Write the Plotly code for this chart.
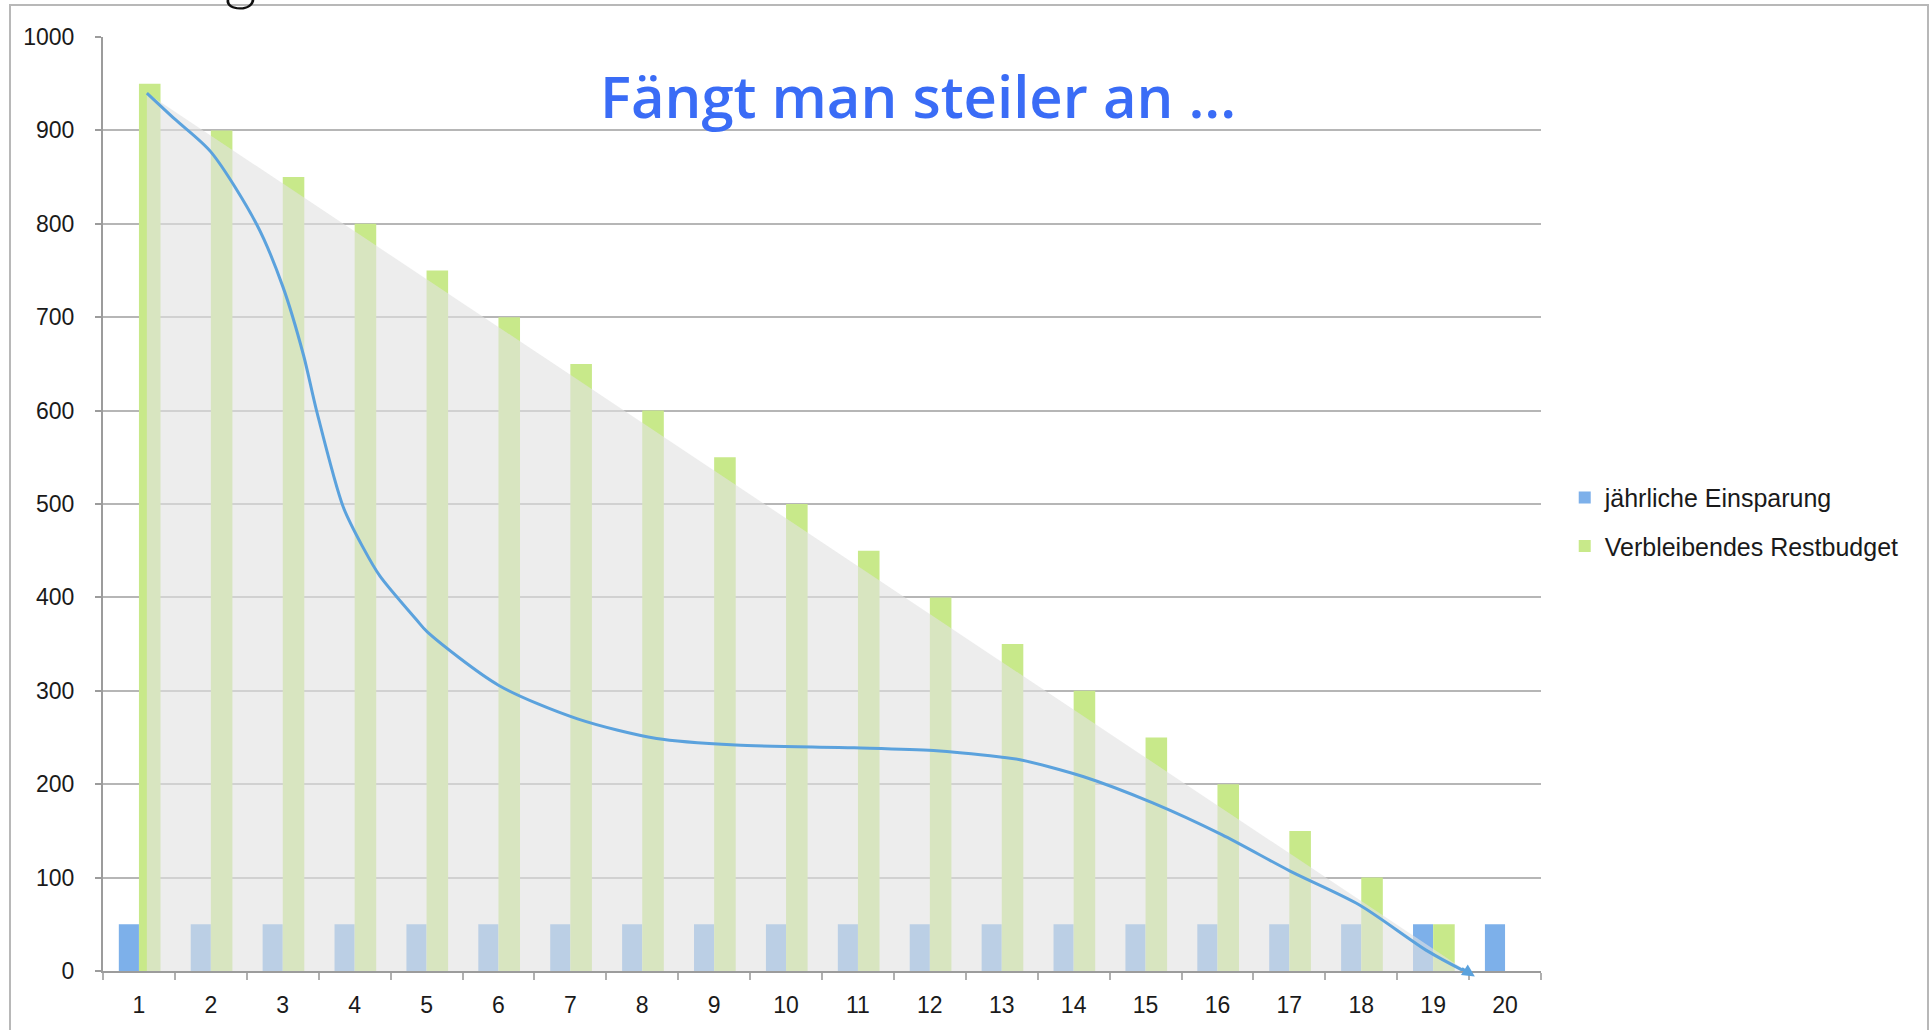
import plotly.graph_objects as go

# ---- data ----
jahre = list(range(1, 21))
jaehrliche_einsparung = [50] * 20
restbudget = [950, 900, 850, 800, 750, 700, 650, 600, 550, 500,
              450, 400, 350, 300, 250, 200, 150, 100, 50, 0]

# blue curve ("Fängt man steiler an ...")
kurve_x = [1.11, 1.5, 2.0, 2.64, 3.0, 3.29, 3.47, 3.84, 4.12, 4.35, 4.86, 5.01,
           6.0, 7.1, 8.2, 9.3, 10.95, 12.05, 12.98, 13.27, 14.14, 15.1, 16.06,
           17.01, 17.97, 18.93, 19.58]
kurve_y = [940, 912, 877, 799, 733, 659, 600, 497, 453, 423, 376, 363,
           306, 270, 249, 242, 239, 236, 229, 226, 208, 180, 146,
           107, 71, 21, -6]

# grey linear-decline area
flaeche_x = [1.11, 19.58, 1.11, 1.11]
flaeche_y = [940, -6, -6, 940]

titel = "Fängt man steiler an ..."
legende = ["jährliche Einsparung", "Verbleibendes Restbudget"]

BLUE = "#7db0ea"
GREEN = "#c8e98a"
LINE = "#5ba2dd"

fig = go.Figure()
fig.add_trace(go.Bar(
    x=jahre, y=jaehrliche_einsparung, name=legende[0],
    width=0.28, offset=-0.28, marker=dict(color=BLUE, line=dict(width=0)),
    legendgroup="a"))
fig.add_trace(go.Bar(
    x=jahre, y=restbudget, name=legende[1],
    width=0.30, offset=0.0, marker=dict(color=GREEN, line=dict(width=0)),
    legendgroup="b"))
fig.add_trace(go.Scatter(
    x=flaeche_x, y=flaeche_y, mode="lines", fill="toself",
    fillcolor="rgba(226,226,226,0.62)", line=dict(width=0),
    showlegend=False, hoverinfo="skip"))
fig.add_trace(go.Scatter(
    x=kurve_x, y=kurve_y, mode="lines",
    line=dict(color=LINE, width=3, shape="spline", smoothing=0.8),
    showlegend=False, hoverinfo="skip"))

# small arrow head at the end of the curve
fig.add_annotation(x=kurve_x[-1], y=kurve_y[-1], ax=kurve_x[-2] + 0.45, ay=kurve_y[-2] - 17,
                   xref="x", yref="y", axref="x", ayref="y", text="",
                   showarrow=True, arrowhead=2, arrowsize=1, arrowwidth=2.5,
                   arrowcolor=LINE, standoff=0)

# title
fig.add_annotation(text=titel, xref="paper", yref="paper", x=0.567, y=0.937,
                   xanchor="center", yanchor="middle", showarrow=False,
                   font=dict(family="Open Sans", size=58, color="#3a6cf6", weight=600))

# cut-off slide heading (only the descender of a "g" is visible)
fig.add_annotation(text="g", xref="paper", yref="paper", x=(240 - 103) / 1438, y=1.0247,
                   xanchor="center", yanchor="bottom", showarrow=False,
                   font=dict(family="Lato", size=64, color="#111111", weight=300))

# slide frame
fig.add_shape(type="rect", xref="paper", yref="paper",
              x0=(10 - 103) / 1438, x1=(1928 - 103) / 1438,
              y0=-0.2, y1=(973 - 5) / 936,
              line=dict(color="#b8b8b8", width=2), fillcolor="rgba(0,0,0,0)", layer="below")

fig.update_layout(
    width=1932, height=1030, autosize=False,
    margin=dict(l=103, r=391, t=37, b=57, pad=0),
    paper_bgcolor="white", plot_bgcolor="white",
    barmode="overlay",
    font=dict(family="Liberation Sans, Arial, sans-serif", size=23, color="#1a1a1a"),
    showlegend=True,
    legend=dict(x=1.0165, y=0.481, xanchor="left", yanchor="middle",
                font=dict(size=25, color="#1a1a1a"), tracegroupgap=13,
                bgcolor="rgba(0,0,0,0)", traceorder="grouped"),
    xaxis=dict(range=[0.5, 20.5], tickmode="array", tickvals=jahre,
               ticktext=[str(j) for j in jahre], ticks="", showgrid=False,
               zeroline=False, showline=True, linecolor="#9c9c9c", linewidth=2,
               ticklabelstandoff=12,
               minor=dict(tick0=0.5, dtick=1, ticks="outside", ticklen=7,
                          tickcolor="#b0b0b0", tickwidth=2, showgrid=False)),
    yaxis=dict(range=[0, 1000], dtick=100, ticks="outside", ticklen=6,
               tickcolor="#9c9c9c", tickwidth=2, showline=True, linecolor="#9c9c9c",
               linewidth=2, showgrid=True, gridcolor="#b6b6b6", gridwidth=2,
               zeroline=False, ticklabelstandoff=16),
)

fig.write_html("out.html", config={"displayModeBar": False},
               post_script="document.body.style.margin='0';")
